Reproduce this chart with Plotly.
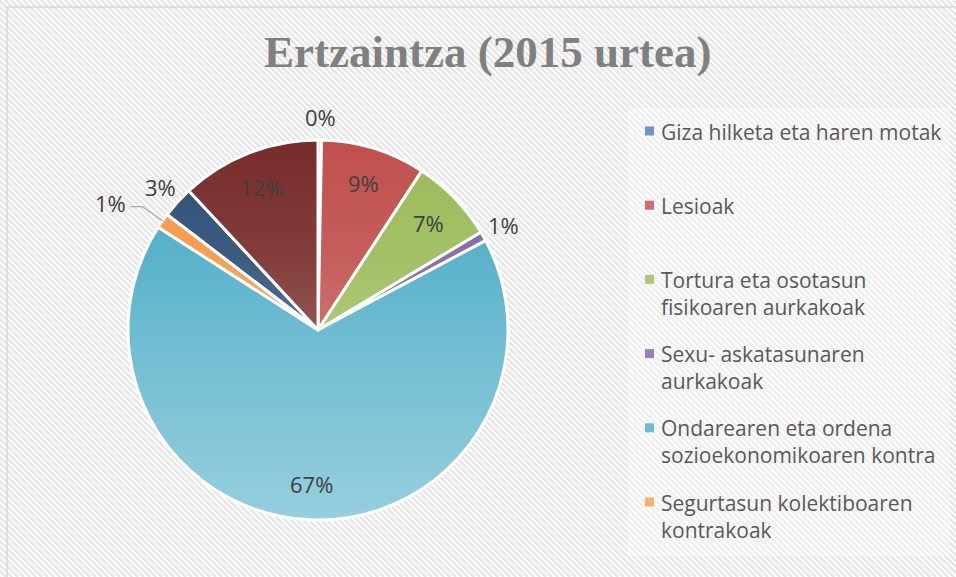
import math
import base64
import plotly.graph_objects as go

# ---- data ----
labels = [
    "Giza hilketa eta haren motak",
    "Lesioak",
    "Tortura eta osotasun fisikoaren aurkakoak",
    "Sexu- askatasunaren aurkakoak",
    "Ondarearen eta ordena sozioekonomikoaren kontra",
    "Segurtasun kolektiboaren kontrakoak",
    "Ordena publikoaren aurkakoak",
    "Beste batzuk",
]
values = [0.3, 8.9, 7.2, 0.8, 66.9, 1.3, 2.7, 11.9]
legend_labels = [
    "Giza hilketa eta haren motak",
    "Lesioak",
    "Tortura eta osotasun<br>fisikoaren aurkakoak",
    "Sexu- askatasunaren<br>aurkakoak",
    "Ondarearen eta ordena<br>sozioekonomikoaren kontra",
    "Segurtasun kolektiboaren<br>kontrakoak",
]
title_text = "Ertzaintza (2015 urtea)"

# ---- style ----
colors = ["#4F81BD", "#C0504D", "#9BBB59", "#8064A2", "#4BACC6", "#F79646", "#2C4D75", "#772C2A"]
legend_colors = ["#6F95C8", "#D06E6B", "#ADC87A", "#9882B5", "#70BDD3", "#F9AD6E"]
label_mode = ["out", "in", "in", "out", "in", "leader", "out", "in"]
label_rf = {"in": 0.81, "out": 1.12, "leader": 1.13}

W, H = 956, 577
def px(x):
    return x / W
def py(y):
    return 1 - y / H

cx, cy, r = 318, 330, 190

fig = go.Figure()
fig.add_trace(go.Pie(
    labels=labels,
    values=values,
    sort=False,
    direction="clockwise",
    rotation=0,
    marker=dict(colors=colors, line=dict(color="white", width=3)),
    textinfo="none",
    showlegend=False,
    domain=dict(x=[px(cx - r), px(cx + r)], y=[py(cy + r), py(cy - r)]),
    hoverinfo="label+percent",
))

# gradient sheen over the pie (lighter towards the bottom)
svg = (
    '<svg xmlns="http://www.w3.org/2000/svg" width="380" height="380" viewBox="0 0 380 380">'
    '<defs><linearGradient id="g" x1="0" y1="0" x2="0" y2="1">'
    '<stop offset="0" stop-color="#fff" stop-opacity="0"/>'
    '<stop offset="0.3" stop-color="#fff" stop-opacity="0.08"/>'
    '<stop offset="0.5" stop-color="#fff" stop-opacity="0.19"/>'
    '<stop offset="1" stop-color="#fff" stop-opacity="0.42"/>'
    '</linearGradient></defs>'
    '<circle cx="190" cy="190" r="190" fill="url(#g)"/></svg>'
)
svg_uri = "data:image/svg+xml;base64," + base64.b64encode(svg.encode()).decode()
images = [dict(source=svg_uri, xref="paper", yref="paper", x=px(cx - r), y=py(cy - r),
               sizex=px(2 * r), sizey=2 * r / H, xanchor="left", yanchor="top",
               sizing="stretch", layer="above")]

# background hatch
segs = []
step = 6
for k in range(-H, W + H, step):
    segs.append(f"M {px(k):.5f} {py(0):.5f} L {px(k + H):.5f} {py(H):.5f}")
shapes = [
    dict(type="path", xref="paper", yref="paper", path=" ".join(segs),
         line=dict(color="#E6E6E6", width=2.4), layer="below"),
    dict(type="rect", xref="paper", yref="paper", x0=px(628), x1=px(950), y0=py(556), y1=py(108),
         fillcolor="rgba(255,255,255,0.35)", line=dict(width=0), layer="below"),
    dict(type="rect", xref="paper", yref="paper", x0=px(7), x1=px(990), y0=py(600), y1=py(7),
         fillcolor="rgba(0,0,0,0)", line=dict(color="#D9D9D9", width=1.5), layer="below"),
]

annotations = [dict(text=title_text, x=px(487), y=py(52), xref="paper", yref="paper",
                    showarrow=False, xanchor="center", yanchor="middle",
                    font=dict(family="Liberation Serif", size=45, color="#808080", weight="bold"))]

# data labels, placed at each slice's mid angle
total = sum(values)
cum = 0.0
for v, mode in zip(values, label_mode):
    mid = (cum + v / 2) / total * 2 * math.pi
    cum += v
    txt = f"{round(v / total * 100)}%"
    rf = label_rf[mode]
    lx = cx + rf * r * math.sin(mid)
    ly = cy - rf * r * math.cos(mid)
    if mode == "leader":
        ex = cx + r * math.sin(mid)
        ey = cy - r * math.cos(mid)
        hx = lx - 12
        shapes.append(dict(type="path", xref="paper", yref="paper",
                           path=f"M {px(ex):.5f} {py(ey):.5f} L {px(lx):.5f} {py(ly):.5f} L {px(hx):.5f} {py(ly):.5f}",
                           line=dict(color="#A6A6A6", width=1.2), layer="above"))
        annotations.append(dict(text=txt, x=px(hx - 2), y=py(ly - 4), xref="paper", yref="paper",
                                showarrow=False, xanchor="right", yanchor="middle",
                                font=dict(family="Open Sans", size=22, color="#404040")))
    else:
        annotations.append(dict(text=txt, x=px(lx), y=py(ly), xref="paper", yref="paper",
                                showarrow=False, xanchor="center", yanchor="middle",
                                font=dict(family="Open Sans", size=22, color="#404040")))

# legend (only the entries visible in the original frame)
row0, rstep, sq = 131, 74.2, 9
for i, (lab, col) in enumerate(zip(legend_labels, legend_colors)):
    yc = row0 + i * rstep
    shapes.append(dict(type="rect", xref="paper", yref="paper",
                       x0=px(645), x1=px(645 + sq), y0=py(yc + sq / 2), y1=py(yc - sq / 2),
                       fillcolor=col, line=dict(width=0), layer="above"))
    annotations.append(dict(text=lab, x=px(659), y=py(yc - 15.5), xref="paper", yref="paper",
                            showarrow=False, xanchor="left", yanchor="top", align="left",
                            font=dict(family="Open Sans", size=21, color="#595959")))

fig.update_layout(
    width=W, height=H,
    margin=dict(l=0, r=0, t=0, b=0),
    paper_bgcolor="white",
    plot_bgcolor="white",
    shapes=shapes,
    annotations=annotations,
    images=images,
)

fig.write_html("out.html", config={"displayModeBar": False},
               post_script="document.body.style.margin='0';")
